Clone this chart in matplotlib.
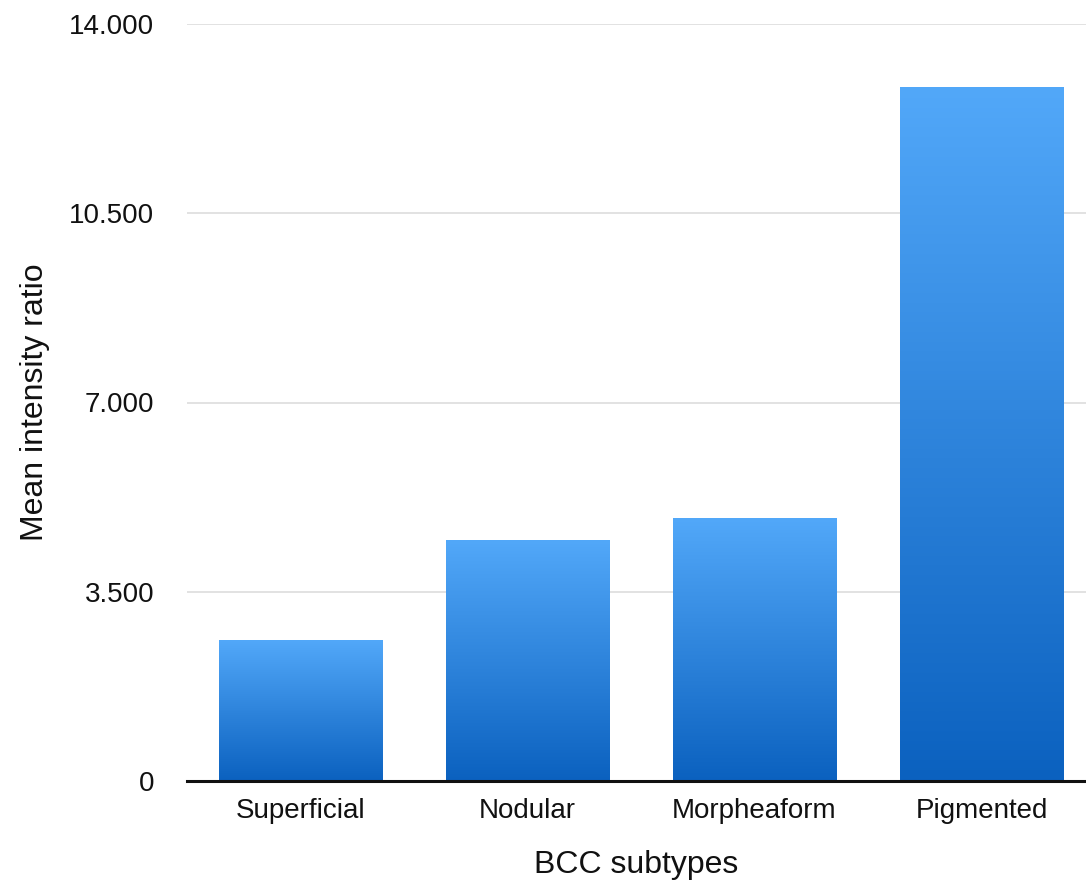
import numpy as np
import matplotlib
matplotlib.use('Agg')
import matplotlib.pyplot as plt
from matplotlib.colors import LinearSegmentedColormap

subtypes = ['Superficial', 'Nodular', 'Morpheaform', 'Pigmented']
mean_ratio = [2.59, 4.44, 4.86, 12.83]
y_ticks = [0, 3.5, 7, 10.5, 14]
y_tick_labels = ['0', '3.500', '7.000', '10.500', '14.000']

plt.rcParams['font.family'] = ['Liberation Sans', 'DejaVu Sans']

fig = plt.figure(figsize=(10.86, 8.86), dpi=100)
ax = fig.add_axes([187 / 1086, 105 / 886, 1 - 187 / 1086, 757 / 886])

x = np.arange(len(subtypes))
bars = ax.bar(x, mean_ratio, width=0.72, color='none', zorder=3)

# vertical blue gradient inside each bar
blues = LinearSegmentedColormap.from_list('bar_blue', ['#0b61bf', '#52a8f9'])
grad = np.linspace(0, 1, 256).reshape(-1, 1)
for b in bars:
    x0, w, h = b.get_x(), b.get_width(), b.get_height()
    ax.imshow(grad, cmap=blues, origin='lower', aspect='auto',
              extent=(x0, x0 + w, 0, h), zorder=3, interpolation='bicubic')

ax.set_xlim(-0.5, 3.46)
ax.set_ylim(0, 14)
ax.set_yticks(y_ticks)
ax.set_yticklabels(y_tick_labels)
ax.set_xticks(x)
ax.set_xticklabels(subtypes)
ax.tick_params(axis='both', length=0, labelsize=20, colors='#111111')
ax.tick_params(axis='y', pad=23.5)
ax.tick_params(axis='x', pad=12)

ax.grid(axis='y', color='#dddddd', linewidth=1.2, zorder=0)
ax.set_axisbelow(True)
for side in ['top', 'right', 'left']:
    ax.spines[side].set_visible(False)
ax.spines['bottom'].set_linewidth(2.2)
ax.spines['bottom'].set_color('#111111')
ax.spines['bottom'].set_zorder(4)

ax.set_xlabel('BCC subtypes', fontsize=23, labelpad=19, color='#111111')
ax.set_ylabel('Mean intensity ratio', fontsize=23, labelpad=14, color='#111111')

fig.savefig('out.png', dpi=100)
